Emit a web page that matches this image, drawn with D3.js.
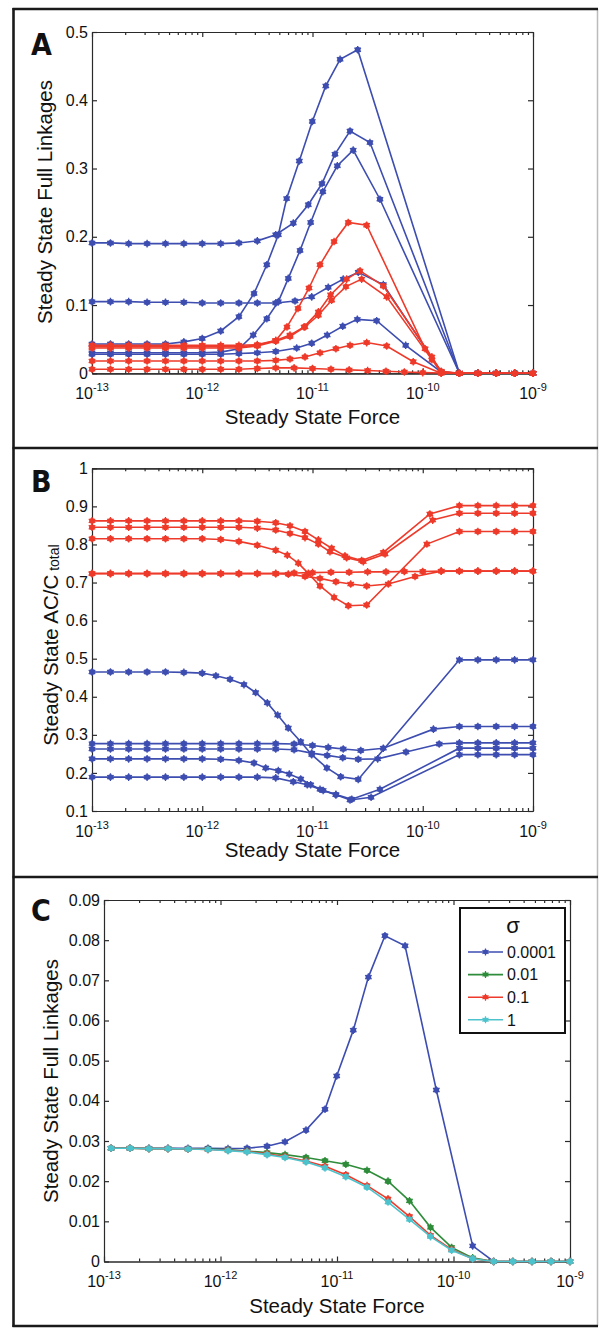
<!DOCTYPE html>
<html>
<head>
<meta charset="utf-8">
<script src="https://cdn.jsdelivr.net/npm/d3@7/dist/d3.min.js"></script>
<style>
  body { margin: 0; background: #fff; }
  svg { display: block; }
</style>
</head>
<body>
<div id="chart"></div>
<script>
// steady state curves vs force, three panels (A, B, C) drawn with d3 //

// ---- axis tick data ----
var xTickVals = [1e-13, 1e-12, 1e-11, 1e-10, 1e-9];
var xTickExp = ["-13", "-12", "-11", "-10", "-9"];
var aYTicks = [0, 0.1, 0.2, 0.3, 0.4, 0.5];
var aYLabels = ["0", "0.1", "0.2", "0.3", "0.4", "0.5"];
var bYTicks = [0.1, 0.2, 0.3, 0.4, 0.5, 0.6, 0.7, 0.8, 0.9, 1];
var bYLabels = ["0.1", "0.2", "0.3", "0.4", "0.5", "0.6", "0.7", "0.8", "0.9", "1"];
var cYTicks = [0, 0.01, 0.02, 0.03, 0.04, 0.05, 0.06, 0.07, 0.08, 0.09];
var cYLabels = ["0", "0.01", "0.02", "0.03", "0.04", "0.05", "0.06", "0.07", "0.08", "0.09"];

// ---- panel A : steady state full linkages, [force, value] ----
var aBlue1 = [[1e-13,.043],[1.47e-13,.043],[2.15e-13,.043],[3.16e-13,.043],[4.64e-13,.043],[6.81e-13,.046],[1e-12,.051],[1.47e-12,.062],[2.15e-12,.083],[2.95e-12,.117],[3.85e-12,.159],[4.90e-12,.203],[5.83e-12,.256],[7.59e-12,.311],[9.96e-12,.369],[1.32e-11,.421],[1.78e-11,.460],[2.57e-11,.474],[2.15e-10,0],[3.16e-10,0],[4.64e-10,0],[6.81e-10,0],[1e-9,0]];
var aBlue2 = [[1e-13,.191],[1.47e-13,.191],[2.15e-13,.190],[3.16e-13,.190],[4.64e-13,.190],[6.81e-13,.190],[1e-12,.190],[1.47e-12,.190],[2.15e-12,.191],[3.16e-12,.194],[4.64e-12,.203],[6.70e-12,.220],[9.16e-12,.247],[1.22e-11,.278],[1.60e-11,.321],[2.19e-11,.355],[3.32e-11,.338],[2.15e-10,0],[3.16e-10,0],[4.64e-10,0],[6.81e-10,0],[1e-9,0]];
var aBlue3 = [[1e-13,.030],[1.47e-13,.030],[2.15e-13,.030],[3.16e-13,.030],[4.64e-13,.030],[6.81e-13,.030],[1e-12,.030],[1.47e-12,.031],[2.15e-12,.036],[2.90e-12,.056],[3.85e-12,.080],[4.90e-12,.105],[6.03e-12,.139],[7.71e-12,.180],[9.62e-12,.221],[1.24e-11,.266],[1.68e-11,.304],[2.34e-11,.327],[4.09e-11,.255],[2.15e-10,0],[3.16e-10,0],[4.64e-10,0],[6.81e-10,0],[1e-9,0]];
var aBlue4 = [[1e-13,.105],[1.47e-13,.105],[2.15e-13,.105],[3.16e-13,.104],[4.64e-13,.104],[6.81e-13,.104],[1e-12,.103],[1.47e-12,.103],[2.15e-12,.103],[3.16e-12,.103],[4.64e-12,.103],[6.94e-12,.106],[9.84e-12,.112],[1.39e-11,.126],[1.90e-11,.138],[2.60e-11,.148],[4.39e-11,.130],[1.47e-10,.002],[2.15e-10,0],[3.16e-10,0],[4.64e-10,0],[6.81e-10,0],[1e-9,0]];
var aBlue5 = [[1e-13,.028],[1.47e-13,.028],[2.15e-13,.028],[3.16e-13,.028],[4.64e-13,.028],[6.81e-13,.028],[1e-12,.028],[1.47e-12,.028],[2.15e-12,.029],[3.16e-12,.030],[4.64e-12,.032],[7.19e-12,.037],[9.84e-12,.044],[1.36e-11,.056],[1.88e-11,.069],[2.55e-11,.079],[3.82e-11,.077],[7.00e-11,.041],[1.47e-10,.002],[2.15e-10,0],[3.16e-10,0],[4.64e-10,0],[6.81e-10,0],[1e-9,0]];
var aRed1 = [[1e-13,.041],[1.47e-13,.041],[2.15e-13,.041],[3.16e-13,.041],[4.64e-13,.041],[6.81e-13,.041],[1e-12,.041],[1.47e-12,.041],[2.15e-12,.041],[3.16e-12,.042],[4.64e-12,.048],[5.87e-12,.068],[7.39e-12,.095],[9.30e-12,.125],[1.17e-11,.159],[1.57e-11,.193],[2.11e-11,.221],[3.10e-11,.217],[1.05e-10,.036],[1.47e-10,.003],[2.15e-10,0],[3.16e-10,0],[4.64e-10,0],[6.81e-10,0],[1e-9,0]];
var aRed2 = [[1e-13,.039],[1.47e-13,.039],[2.15e-13,.039],[3.16e-13,.039],[4.64e-13,.039],[6.81e-13,.039],[1e-12,.039],[1.47e-12,.039],[2.15e-12,.039],[3.16e-12,.041],[4.64e-12,.048],[6.25e-12,.056],[8.38e-12,.068],[1.13e-11,.090],[1.46e-11,.115],[2.04e-11,.138],[2.70e-11,.150],[4.39e-11,.128],[1.21e-10,.024],[1.47e-10,.002],[2.15e-10,0],[3.16e-10,0],[4.64e-10,0],[6.81e-10,0],[1e-9,0]];
var aRed3 = [[1e-13,.037],[1.47e-13,.037],[2.15e-13,.037],[3.16e-13,.037],[4.64e-13,.037],[6.81e-13,.037],[1e-12,.037],[1.47e-12,.037],[2.15e-12,.037],[3.16e-12,.040],[4.64e-12,.047],[6.25e-12,.054],[8.55e-12,.068],[1.13e-11,.085],[1.49e-11,.107],[2.01e-11,.127],[2.79e-11,.138],[4.71e-11,.112],[1.21e-10,.020],[1.47e-10,.001],[2.15e-10,0],[3.16e-10,0],[4.64e-10,0],[6.81e-10,0],[1e-9,0]];
var aRed4 = [[1e-13,.018],[1.47e-13,.018],[2.15e-13,.018],[3.16e-13,.018],[4.64e-13,.018],[6.81e-13,.018],[1e-12,.018],[1.47e-12,.018],[2.15e-12,.018],[3.16e-12,.018],[4.64e-12,.019],[6.25e-12,.021],[8.55e-12,.024],[1.17e-11,.030],[1.63e-11,.036],[2.19e-11,.041],[3.10e-11,.045],[4.71e-11,.040],[8.20e-11,.017],[1.47e-10,0],[2.15e-10,0],[3.16e-10,0],[4.64e-10,0],[6.81e-10,0],[1e-9,0]];
var aRed5 = [[1e-13,.006],[1.47e-13,.006],[2.15e-13,.006],[3.16e-13,.006],[4.64e-13,.006],[6.81e-13,.006],[1e-12,.006],[1.47e-12,.006],[2.15e-12,.006],[3.16e-12,.007],[4.64e-12,.008],[6.81e-12,.008],[1e-11,.007],[1.47e-11,.006],[2.15e-11,.005],[3.16e-11,.004],[4.64e-11,.003],[6.81e-11,.002],[1e-10,.001],[1.47e-10,.0005],[2.15e-10,0],[3.16e-10,0],[4.64e-10,0],[6.81e-10,0],[1e-9,0]];

// ---- panel B : steady state AC/C total ----
var bRed1 = [[1e-13,.862],[1.47e-13,.862],[2.15e-13,.862],[3.16e-13,.862],[4.64e-13,.862],[6.81e-13,.862],[1e-12,.862],[1.47e-12,.862],[2.15e-12,.862],[3.16e-12,.861],[4.64e-12,.857],[6.25e-12,.849],[8.55e-12,.834],[1.13e-11,.812],[1.49e-11,.790],[1.97e-11,.770],[2.79e-11,.758],[4.39e-11,.779],[1.16e-10,.880],[2.15e-10,.902],[3.16e-10,.902],[4.64e-10,.902],[6.81e-10,.902],[1e-9,.902]];
var bRed2 = [[1e-13,.845],[1.47e-13,.845],[2.15e-13,.845],[3.16e-13,.845],[4.64e-13,.845],[6.81e-13,.845],[1e-12,.845],[1.47e-12,.845],[2.15e-12,.845],[3.16e-12,.843],[4.64e-12,.838],[6.25e-12,.829],[8.55e-12,.818],[1.13e-11,.801],[1.44e-11,.781],[2.04e-11,.765],[2.89e-11,.755],[4.55e-11,.775],[1.23e-10,.864],[2.15e-10,.882],[3.16e-10,.882],[4.64e-10,.882],[6.81e-10,.882],[1e-9,.882]];
var bRed3 = [[1e-13,.815],[1.47e-13,.815],[2.15e-13,.815],[3.16e-13,.815],[4.64e-13,.815],[6.81e-13,.815],[1e-12,.815],[1.47e-12,.813],[2.15e-12,.808],[3.16e-12,.798],[4.64e-12,.785],[5.91e-12,.772],[7.43e-12,.751],[9.16e-12,.724],[1.17e-11,.691],[1.57e-11,.661],[2.11e-11,.639],[3.10e-11,.641],[1.09e-10,.801],[2.15e-10,.834],[3.16e-10,.834],[4.64e-10,.834],[6.81e-10,.834],[1e-9,.834]];
var bRed4 = [[1e-13,.724],[1.47e-13,.724],[2.15e-13,.724],[3.16e-13,.724],[4.64e-13,.724],[6.81e-13,.724],[1e-12,.724],[1.47e-12,.724],[2.15e-12,.724],[3.16e-12,.724],[4.64e-12,.723],[6.03e-12,.722],[8.55e-12,.716],[1.17e-11,.711],[1.63e-11,.702],[2.22e-11,.696],[3.10e-11,.691],[4.87e-11,.696],[8.51e-11,.716],[1.47e-10,.730],[2.15e-10,.730],[3.16e-10,.730],[4.64e-10,.730],[6.81e-10,.730],[1e-9,.730]];
var bRed5 = [[1e-13,.723],[1.47e-13,.723],[2.15e-13,.723],[3.16e-13,.723],[4.64e-13,.723],[6.81e-13,.723],[1e-12,.723],[1.47e-12,.723],[2.15e-12,.723],[3.16e-12,.723],[4.64e-12,.724],[6.81e-12,.725],[1e-11,.726],[1.47e-11,.727],[2.15e-11,.727],[3.16e-11,.728],[4.64e-11,.728],[6.81e-11,.729],[1e-10,.729],[1.47e-10,.730],[2.15e-10,.730],[3.16e-10,.730],[4.64e-10,.730],[6.81e-10,.730],[1e-9,.730]];
var bBlue1 = [[1e-13,.465],[1.47e-13,.465],[2.15e-13,.465],[3.16e-13,.465],[4.64e-13,.465],[6.81e-13,.464],[1e-12,.462],[1.33e-12,.455],[1.79e-12,.446],[2.39e-12,.432],[3.05e-12,.411],[3.89e-12,.384],[4.83e-12,.352],[6.03e-12,.318],[7.82e-12,.282],[9.84e-12,.248],[1.35e-11,.213],[1.80e-11,.190],[2.60e-11,.183],[2.15e-10,.497],[3.16e-10,.497],[4.64e-10,.497],[6.81e-10,.497],[1e-9,.497]];
var bBlue2 = [[1e-13,.277],[1.47e-13,.277],[2.15e-13,.277],[3.16e-13,.277],[4.64e-13,.277],[6.81e-13,.277],[1e-12,.277],[1.47e-12,.277],[2.15e-12,.277],[3.16e-12,.277],[4.64e-12,.277],[6.81e-12,.276],[1.00e-11,.272],[1.39e-11,.267],[1.90e-11,.263],[2.74e-11,.259],[4.39e-11,.265],[1.25e-10,.315],[2.15e-10,.322],[3.16e-10,.322],[4.64e-10,.322],[6.81e-10,.322],[1e-9,.322]];
var bBlue3 = [[1e-13,.263],[1.47e-13,.263],[2.15e-13,.263],[3.16e-13,.263],[4.64e-13,.263],[6.81e-13,.263],[1e-12,.263],[1.47e-12,.263],[2.15e-12,.263],[3.16e-12,.263],[4.64e-12,.263],[6.81e-12,.261],[9.84e-12,.252],[1.36e-11,.246],[1.88e-11,.240],[2.60e-11,.236],[3.90e-11,.237],[7.05e-11,.255],[1.41e-10,.276],[2.15e-10,.279],[3.16e-10,.279],[4.64e-10,.279],[6.81e-10,.279],[1e-9,.279]];
var bBlue4 = [[1e-13,.237],[1.47e-13,.237],[2.15e-13,.237],[3.16e-13,.237],[4.64e-13,.237],[6.81e-13,.237],[1e-12,.237],[1.47e-12,.236],[2.15e-12,.233],[2.95e-12,.226],[3.76e-12,.213],[4.90e-12,.206],[6.16e-12,.197],[7.82e-12,.184],[9.62e-12,.169],[1.25e-11,.154],[1.63e-11,.143],[2.19e-11,.129],[3.40e-11,.136],[2.15e-10,.248],[3.16e-10,.248],[4.64e-10,.248],[6.81e-10,.248],[1e-9,.248]];
var bBlue5 = [[1e-13,.189],[1.47e-13,.189],[2.15e-13,.189],[3.16e-13,.189],[4.64e-13,.189],[6.81e-13,.189],[1e-12,.189],[1.47e-12,.189],[2.15e-12,.189],[3.16e-12,.189],[4.64e-12,.187],[6.70e-12,.177],[8.97e-12,.169],[1.17e-11,.157],[1.63e-11,.143],[2.27e-11,.131],[4.09e-11,.157],[2.15e-10,.265],[3.16e-10,.265],[4.64e-10,.265],[6.81e-10,.265],[1e-9,.265]];

// ---- panel C : full linkages for several sigma ----
var cSigma = ["0.0001", "0.01", "0.1", "1"];
var cForce = [1.15e-13,1.67e-13,2.43e-13,3.54e-13,5.26e-13,7.81e-13,1.16e-12,1.69e-12,2.51e-12,3.58e-12,5.42e-12,7.89e-12,1.19e-11,1.81e-11,2.74e-11,4.19e-11,6.35e-11,9.63e-11,1.46e-10,2.21e-10,3.23e-10,4.72e-10,6.87e-10,1e-9];
var cGreen = [.0282,.0282,.0281,.0281,.0280,.0280,.0278,.0275,.0271,.0266,.0259,.0251,.0242,.0227,.0200,.0151,.0085,.0035,.0009,0,0,0,0,0];
var cRed   = [.0282,.0282,.0281,.0281,.0280,.0279,.0277,.0274,.0268,.0261,.0250,.0237,.0216,.0189,.0156,.0112,.0065,.0030,.0007,0,0,0,0,0];
var cCyan  = [.0282,.0282,.0281,.0281,.0280,.0279,.0276,.0273,.0266,.0259,.0248,.0233,.0211,.0185,.0148,.0105,.0062,.0028,.0007,0,0,0,0,0];
var cBlue = [[1.15e-13,.0282],[1.67e-13,.0282],[2.43e-13,.0282],[3.54e-13,.0282],[5.26e-13,.0282],[7.81e-13,.0282],[1.16e-12,.0281],[1.69e-12,.0282],[2.51e-12,.0287],[3.58e-12,.0298],[5.42e-12,.0327],[7.89e-12,.0379],[9.94e-12,.0462],[1.38e-11,.0576],[1.86e-11,.0708],[2.58e-11,.0811],[3.84e-11,.0786],[7.12e-11,.0427],[1.46e-10,.0039],[2.21e-10,0],[3.23e-10,0],[4.72e-10,0],[6.87e-10,0],[1e-9,0]];

// colours
var BLUE = "#3d4db0", RED = "#ee3a2a", GREEN = "#2e8c3a", CYAN = "#4cc3cc";
var FONT = "'Liberation Sans', Arial, Helvetica, sans-serif";

var svg = d3.select("#chart")
        .append("svg")
        .attr("width", 600)
        .attr("height", 1328);

// outer frame and separators
    function drawFrame(){
        var f = svg.append("g").attr("fill", "none");
        f.append("line").attr("x1", 597.5).attr("x2", 597.5).attr("y1", 9).attr("y2", 1326)
            .attr("stroke", "#bbb").attr("stroke-width", 1.5);
        [9, 448, 877, 1326].forEach(function(yy){
            f.append("line").attr("x1", 12.5).attr("x2", 598).attr("y1", yy).attr("y2", yy)
                .attr("stroke", "#1a1a1a").attr("stroke-width", 2.6);
        });
        f.append("line").attr("x1", 13.5).attr("x2", 13.5).attr("y1", 8).attr("y2", 1327)
            .attr("stroke", "#1a1a1a").attr("stroke-width", 2.6);
    }

// markers: filled dot with an asterisk over it
    function drawMarkers(g, data, x, y, color){
        var star = d3.symbol().type(d3.symbolAsterisk).size(40);
        var m = g.selectAll(null).data(data).enter().append("g")
            .attr("transform", function(d){ return "translate(" + x(d[0]) + "," + y(d[1]) + ")"; });
        m.append("circle").attr("r", 2.9).attr("fill", color);
        m.append("path").attr("d", star).attr("fill", "none").attr("stroke", color).attr("stroke-width", 1.3);
    }

// one panel: axes box, ticks, labels, series
    function drawPanel(p){
        var x = d3.scaleLog().domain([1e-13, 1e-9]).range([p.left, p.right]);
        var y = d3.scaleLinear().domain(p.yDomain).range([p.bottom, p.top]);
        var g = svg.append("g");

        var minor = [];
        for (var e = -13; e < -9; e++) {
            for (var k = 2; k <= 9; k++) minor.push(k * Math.pow(10, e));
        }

        function styleAxis(sel){
            sel.selectAll("path,line").attr("stroke", "#2a2a2a").attr("stroke-width", 1.2);
            sel.selectAll("text").remove();
        }

        g.append("g").attr("transform", "translate(0," + p.bottom + ")")
            .call(d3.axisBottom(x).tickValues(xTickVals).tickSize(-5).tickSizeOuter(0)).call(styleAxis);
        g.append("g").attr("transform", "translate(0," + p.bottom + ")")
            .call(d3.axisBottom(x).tickValues(minor).tickSize(-3).tickSizeOuter(0)).call(styleAxis);
        g.append("g").attr("transform", "translate(0," + p.top + ")")
            .call(d3.axisTop(x).tickValues(xTickVals).tickSize(-5).tickSizeOuter(0)).call(styleAxis);
        g.append("g").attr("transform", "translate(0," + p.top + ")")
            .call(d3.axisTop(x).tickValues(minor).tickSize(-3).tickSizeOuter(0)).call(styleAxis);
        g.append("g").attr("transform", "translate(" + p.left + ",0)")
            .call(d3.axisLeft(y).tickValues(p.yTicks).tickSize(-5).tickSizeOuter(0)).call(styleAxis);
        g.append("g").attr("transform", "translate(" + p.right + ",0)")
            .call(d3.axisRight(y).tickValues(p.yTicks).tickSize(-5).tickSizeOuter(0)).call(styleAxis);

        // x tick labels 10^n
        var xl = g.selectAll(null).data(xTickVals).enter().append("text")
            .attr("x", function(d){ return x(d); })
            .attr("y", p.bottom + 25.5)
            .attr("text-anchor", "middle")
            .style("font-family", FONT).style("fill", "#111");
        xl.append("tspan").attr("font-size", 16).text("10");
        xl.append("tspan").attr("font-size", 11).attr("dy", -8).text(function(d, i){ return xTickExp[i]; });

        // y tick labels
        g.selectAll(null).data(p.yTicks).enter().append("text")
            .attr("x", p.left - 4)
            .attr("y", function(d){ return y(d) + 5.6; })
            .attr("text-anchor", "end")
            .style("font-family", FONT).style("font-size", "16px").style("fill", "#111")
            .text(function(d, i){ return p.yLabels[i]; });

        // axis titles
        g.append("text")
            .attr("x", (p.left + p.right) / 2).attr("y", p.xTitleY)
            .attr("text-anchor", "middle")
            .style("font-family", FONT).style("font-size", "20.5px").style("fill", "#111")
            .text("Steady State Force");
        var yt = g.append("text")
            .attr("transform", "translate(" + p.yTitleX + "," + p.yTitleCY + ") rotate(-90)")
            .attr("text-anchor", "middle")
            .style("font-family", FONT).style("font-size", "20.5px").style("fill", "#111");
        yt.append("tspan").text(p.yTitle);
        if (p.yTitleSub) {
            yt.append("tspan").attr("font-size", 14).attr("dy", 1.5).text(" " + p.yTitleSub);
        }

        // panel letter
        g.append("text")
            .attr("x", 31).attr("y", p.letterY)
            .style("font-family", "'Liberation Sans Narrow', 'DejaVu Sans Condensed', sans-serif")
            .style("font-weight", "bold").style("font-size", "30px").style("fill", "#111")
            .text(p.letter);

        // series
        var line = d3.line().x(function(d){ return x(d[0]); }).y(function(d){ return y(d[1]); });
        p.series.forEach(function(s){
            g.append("path").datum(s.data)
                .attr("d", line).attr("fill", "none")
                .attr("stroke", s.color).attr("stroke-width", 1.6);
            drawMarkers(g, s.data, x, y, s.color);
        });

        return {g: g, x: x, y: y};
    }

    drawFrame();

    drawPanel({
        letter: "A", letterY: 55,
        left: 92, right: 533, top: 32, bottom: 373.3,
        yDomain: [0, 0.5], yTicks: aYTicks, yLabels: aYLabels,
        xTitleY: 424, yTitleX: 52, yTitleCY: 202, yTitle: "Steady State Full Linkages",
        series: [
            {color: BLUE, data: aBlue1}, {color: BLUE, data: aBlue2}, {color: BLUE, data: aBlue3},
            {color: BLUE, data: aBlue4}, {color: BLUE, data: aBlue5},
            {color: RED, data: aRed1}, {color: RED, data: aRed2}, {color: RED, data: aRed3},
            {color: RED, data: aRed4}, {color: RED, data: aRed5}
        ]
    });

    drawPanel({
        letter: "B", letterY: 492,
        left: 92, right: 533, top: 468.3, bottom: 811,
        yDomain: [0.1, 1], yTicks: bYTicks, yLabels: bYLabels,
        xTitleY: 857, yTitleX: 57.5, yTitleCY: 645, yTitle: "Steady State AC/C", yTitleSub: "total",
        series: [
            {color: BLUE, data: bBlue1}, {color: BLUE, data: bBlue2}, {color: BLUE, data: bBlue3},
            {color: BLUE, data: bBlue4}, {color: BLUE, data: bBlue5},
            {color: RED, data: bRed1}, {color: RED, data: bRed2}, {color: RED, data: bRed3},
            {color: RED, data: bRed4}, {color: RED, data: bRed5}
        ]
    });

    drawPanel({
        letter: "C", letterY: 921,
        left: 104, right: 570, top: 900, bottom: 1261.5,
        yDomain: [0, 0.09], yTicks: cYTicks, yLabels: cYLabels,
        xTitleY: 1313, yTitleX: 58, yTitleCY: 1081, yTitle: "Steady State Full Linkages",
        series: [
            {color: BLUE, data: cBlue},
            {color: GREEN, data: d3.zip(cForce, cGreen)},
            {color: RED, data: d3.zip(cForce, cRed)},
            {color: CYAN, data: d3.zip(cForce, cCyan)}
        ]
    });

// legend for panel C
    var legColors = [BLUE, GREEN, RED, CYAN];
    var leg = svg.append("g");
    leg.append("rect").attr("x", 460).attr("y", 908).attr("width", 105).attr("height", 125)
        .attr("fill", "#fff").attr("stroke", "#111").attr("stroke-width", 2);
    leg.append("text").attr("x", 513).attr("y", 933).attr("text-anchor", "middle")
        .style("font-family", FONT).style("font-size", "22px").style("fill", "#111").text("\u03c3");
    cSigma.forEach(function(s, i){
        var cy = 952 + i * 22.6;
        leg.append("line").attr("x1", 468).attr("x2", 503).attr("y1", cy).attr("y2", cy)
            .attr("stroke", legColors[i]).attr("stroke-width", 1.6);
        var m = leg.append("g").attr("transform", "translate(485.5," + cy + ")");
        m.append("circle").attr("r", 2.4).attr("fill", legColors[i]);
        m.append("path").attr("d", d3.symbol().type(d3.symbolAsterisk).size(34)).attr("fill", "none")
            .attr("stroke", legColors[i]).attr("stroke-width", 1.2);
        leg.append("text").attr("x", 507).attr("y", cy + 5.8)
            .style("font-family", FONT).style("font-size", "16px").style("fill", "#111").text(s);
    });
</script>
</body>
</html>
